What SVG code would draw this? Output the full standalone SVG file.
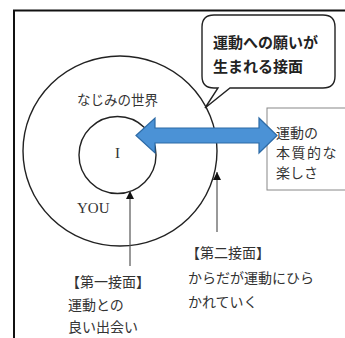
<svg xmlns="http://www.w3.org/2000/svg" width="345" height="338" viewBox="0 0 345 338">
<defs>
<style>
.jp{font-family:"Noto Sans CJK JP","Noto Sans",sans-serif;fill:#333;font-size:14px}
.bold{font-weight:bold;font-size:15px;fill:#222}
.lat{font-family:"Liberation Serif",serif;fill:#333;font-size:15px}
.ln{fill:none;stroke:#222;stroke-width:1.4}
.con{stroke:#555;stroke-width:1.2;fill:none}
</style>
<marker id="ah" viewBox="0 0 8 10" refX="8" refY="5" markerWidth="8" markerHeight="10" markerUnits="userSpaceOnUse" orient="auto">
<path d="M0,1 L8,5 L0,9 Z" fill="#111"/>
</marker>
</defs>
<rect width="345" height="338" fill="#fff"/>
<g id="frame">
<path d="M14,338 V10.5 H345" fill="none" stroke="#111" stroke-width="2"/>
</g>
<g id="outer">
<ellipse cx="120" cy="151" rx="97" ry="95" class="ln"/>
<text x="77" y="105" class="jp" style="font-size:13.5px">なじみの世界</text>
<text x="77" y="213" class="lat">YOU</text>
</g>
<g id="inner">
<circle cx="117.5" cy="155" r="38.5" class="ln"/>
<text x="117.5" y="158" class="lat" text-anchor="middle">I</text>
</g>
<g id="essence">
<rect x="267" y="108" width="90" height="82" fill="#fff" stroke="#888" stroke-width="1"/>
<text x="276" y="138" class="jp">運動の</text>
<text x="276" y="158" class="jp" letter-spacing="1.5">本質的な</text>
<text x="276" y="178" class="jp">楽しさ</text>
</g>
<g id="bubble">
<path d="M214,15 H323 Q335,15 335,27 V76 Q335,88 323,88 H230 L205,108 L218,88 H214 Q202,88 202,76 V27 Q202,15 214,15 Z" fill="#fff" stroke="#222" stroke-width="1.4"/>
<text x="213" y="48" class="jp bold">運動への願いが</text>
<text x="213" y="72" class="jp bold">生まれる接面</text>
</g>
<g id="connectors">
<polygon points="136,135.5 155,118 155,128 259,128 259,118 277,135.5 259,153 259,143 155,143 155,153" fill="#4b92d6" stroke="#2c6aa6" stroke-width="1.2"/>
<line x1="130" y1="266" x2="130" y2="191" class="con" marker-end="url(#ah)"/>
<line x1="217" y1="232" x2="217" y2="172" class="con" marker-end="url(#ah)"/>
</g>
<g id="label1">
<text x="66" y="287" class="jp">【第一接面】</text>
<text x="68" y="310" class="jp">運動との</text>
<text x="68" y="332" class="jp">良い出会い</text>
</g>
<g id="label2">
<text x="186" y="258" class="jp">【第二接面】</text>
<text x="188" y="283" class="jp">からだが運動にひら</text>
<text x="188" y="307" class="jp">かれていく</text>
</g>
</svg>
